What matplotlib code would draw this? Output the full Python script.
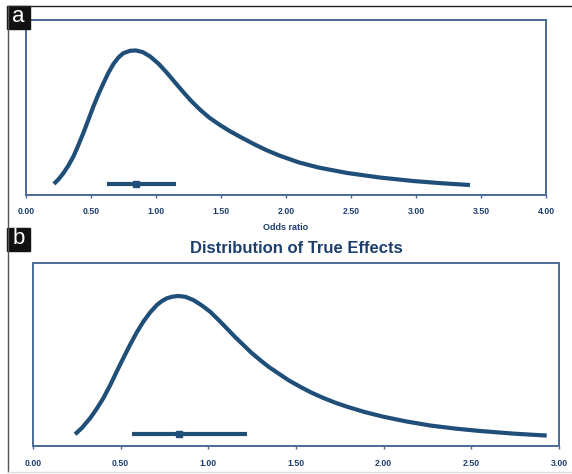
import matplotlib.pyplot as plt
from matplotlib.lines import Line2D
from matplotlib.patches import Rectangle

plt.rcParams['font.family'] = ['Liberation Sans', 'DejaVu Sans']

# panel a: odds ratio vs relative height
a_x = [0.215, 0.25, 0.287, 0.325, 0.364, 0.40, 0.441, 0.48, 0.518, 0.555, 0.595,
       0.635, 0.672, 0.71, 0.748, 0.80, 0.846, 0.90, 0.954, 1.02, 1.082, 1.15,
       1.21, 1.27, 1.338, 1.41, 1.492, 1.57, 1.646, 1.75, 1.85, 1.954, 2.1, 2.25,
       2.469, 2.72, 2.977, 3.2, 3.415]
a_y = [0.063, 0.090, 0.124, 0.167, 0.219, 0.280, 0.354, 0.430, 0.505, 0.572, 0.638,
       0.700, 0.748, 0.785, 0.810, 0.824, 0.826, 0.816, 0.792, 0.750, 0.700, 0.640,
       0.588, 0.538, 0.488, 0.442, 0.400, 0.364, 0.333, 0.292, 0.256, 0.224, 0.186,
       0.157, 0.126, 0.100, 0.080, 0.067, 0.057]
a_ci = [0.62, 1.154]
a_est = 0.846
a_ci_y = 0.063

# panel b
b_x = [0.240, 0.28, 0.325, 0.363, 0.401, 0.44, 0.477, 0.515, 0.553, 0.59, 0.629,
       0.668, 0.706, 0.735, 0.763, 0.795, 0.829, 0.87, 0.914, 0.96, 1.01, 1.055,
       1.105, 1.15, 1.2, 1.245, 1.295, 1.345, 1.399, 1.46, 1.523, 1.585, 1.65,
       1.72, 1.79, 1.89, 1.998, 2.13, 2.265, 2.41, 2.55, 2.75, 2.93]
b_y = [0.064, 0.100, 0.151, 0.203, 0.261, 0.332, 0.406, 0.480, 0.552, 0.618, 0.679,
       0.730, 0.770, 0.792, 0.807, 0.816, 0.820, 0.815, 0.798, 0.770, 0.734, 0.692,
       0.643, 0.598, 0.552, 0.510, 0.470, 0.432, 0.397, 0.358, 0.324, 0.293, 0.265,
       0.238, 0.215, 0.186, 0.160, 0.134, 0.112, 0.095, 0.082, 0.067, 0.057]
b_ci = [0.566, 1.222]
b_est = 0.831
b_ci_y = 0.066

a_ticks = [0.0, 0.5, 1.0, 1.5, 2.0, 2.5, 3.0, 3.5, 4.0]
b_ticks = [0.0, 0.5, 1.0, 1.5, 2.0, 2.5, 3.0]

curve_col = '#1f4e79'
spine_col = '#4b6a95'
text_col = '#1c3f6e'

W, H = 572, 474
fig = plt.figure(figsize=(W / 100, H / 100), dpi=100)


def px_rect(l, t, r, b):
    return [l / W, 1 - b / H, (r - l) / W, (b - t) / H]


def draw_panel(ax, xs, ys, ci, est, ci_y, ticks, xmax):
    ax.plot(xs, ys, color=curve_col, lw=3, solid_capstyle='butt', solid_joinstyle='round')
    ax.plot(ci, [ci_y, ci_y], color=curve_col, lw=3, solid_capstyle='butt')
    ax.plot([est], [ci_y], marker='s', ms=4.5, color=curve_col, mec=curve_col)
    ax.set_xlim(0, xmax)
    ax.set_ylim(0, 1)
    ax.set_yticks([])
    ax.set_xticks(ticks)
    ax.set_xticklabels(['%.2f' % t for t in ticks])
    ax.tick_params(axis='x', length=2.5, width=1, color=spine_col, pad=6.5,
                   labelsize=6.3, labelcolor=text_col)
    for lab in ax.get_xticklabels():
        lab.set_fontweight('bold')
    for s in ax.spines.values():
        s.set_color(spine_col)
        s.set_linewidth(1.4)


ax1 = fig.add_axes(px_rect(26, 20, 546, 195))
draw_panel(ax1, a_x, a_y, a_ci, a_est, a_ci_y, a_ticks, 4.0)

ax2 = fig.add_axes(px_rect(33, 263, 559, 446))
draw_panel(ax2, b_x, b_y, b_ci, b_est, b_ci_y, b_ticks, 3.0)

fig.text(286 / W, 1 - 227 / H, 'Odds ratio', ha='center', va='center',
         fontsize=6.5, fontweight='bold', color=text_col)
fig.text(296.5 / W, 1 - 248 / H, 'Distribution of True Effects', ha='center',
         va='center', fontsize=12, fontweight='bold', color=text_col)

# outer frame
fig.add_artist(Line2D([8 / W, 1], [1 - 6 / H, 1 - 6 / H], color='#222222', lw=1))
fig.add_artist(Line2D([8 / W, 8 / W], [1 - 6 / H, 1 - 472 / H], color='#555555', lw=1))
fig.add_artist(Line2D([8 / W, 1], [1 - 472 / H, 1 - 472 / H], color='#dddddd', lw=1))

# panel letters
for letter, top in [('a', 6), ('b', 228)]:
    fig.add_artist(Rectangle((7 / W, 1 - (top + 23) / H), 23 / W, 23 / H,
                             transform=fig.transFigure, color='#111111'))
    fig.text(18.5 / W, 1 - (top + 11) / H, letter, ha='center', va='center',
             fontsize=16, color='white')

fig.savefig('out.png', dpi=100)
